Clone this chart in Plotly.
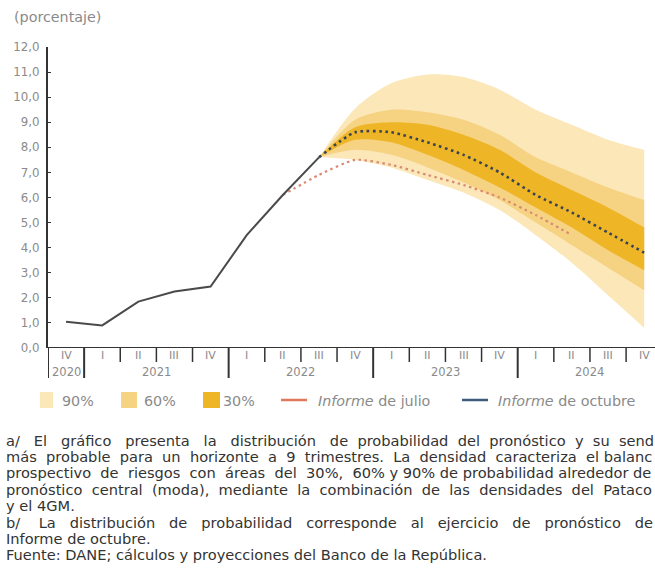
import plotly.graph_objects as go

# ---------------- data ----------------
quarter_labels = ["IV", "I", "II", "III", "IV", "I", "II", "III", "IV",
                  "I", "II", "III", "IV", "I", "II", "III", "IV"]
quarter_years = [2020, 2021, 2021, 2021, 2021, 2022, 2022, 2022, 2022,
                 2023, 2023, 2023, 2023, 2024, 2024, 2024, 2024]
y_ticks = [0, 1, 2, 3, 4, 5, 6, 7, 8, 9, 10, 11, 12]

# observed series (2020-IV .. 2022-III)
hist_idx = [0, 1, 2, 3, 4, 5, 6, 7]
hist_vals = [1.05, 0.9, 1.85, 2.25, 2.45, 4.5, 6.1, 7.6]

# October report central forecast (mode), 2022-III .. 2024-IV
oct_idx = [7, 8, 9, 10, 11, 12, 13, 14, 15, 16]
oct_vals = [7.6, 8.6, 8.6, 8.2, 7.7, 7.0, 6.1, 5.4, 4.6, 3.8]

# July report forecast, 2022-II .. 2024-II
jul_idx = [6, 7, 8, 9, 10, 11, 12, 13, 14]
jul_vals = [6.1, 6.9, 7.5, 7.3, 6.9, 6.5, 6.0, 5.3, 4.5]

# fan chart bands (same x as oct_idx)
band90_up = [7.6, 9.55, 10.55, 10.9, 10.8, 10.3, 9.5, 8.9, 8.3, 7.9]
band60_up = [7.6, 9.1, 9.5, 9.4, 9.1, 8.5, 7.6, 7.0, 6.4, 5.9]
band30_up = [7.6, 8.8, 9.0, 8.9, 8.5, 7.9, 7.0, 6.3, 5.6, 4.8]
band30_lo = [7.6, 8.3, 8.2, 7.7, 7.1, 6.4, 5.6, 4.8, 3.9, 3.1]
band60_lo = [7.6, 7.9, 7.7, 7.2, 6.6, 5.9, 5.0, 4.1, 3.2, 2.3]
band90_lo = [7.6, 7.5, 7.2, 6.7, 6.2, 5.5, 4.5, 3.4, 2.1, 0.8]

# footnote as visible in the (right-cropped) reference
footnote_lines = [
    "a/ El gráfico presenta la distribución de probabilidad del pronóstico y su send",
    "más probable para un horizonte a 9 trimestres. La densidad caracteriza el balanc",
    "prospectivo de riesgos con áreas del 30%, 60% y 90% de probabilidad alrededor de",
    "pronóstico central (moda), mediante la combinación de las densidades del Pataco",
    "y el 4GM.",
    "b/ La distribución de probabilidad corresponde al ejercicio de pronóstico de",
    "Informe de octubre.",
    "Fuente: DANE; cálculos y proyecciones del Banco de la República.",
]
# extra spaces per line to imitate the justified paragraph (style only)
footnote_extra_spaces = [18, 11, 7, 10, 0, 21, 0, 0]

# ---------------- styling ----------------
C90 = "#FBE7B8"
C60 = "#F6D383"
C30 = "#EEB526"
C_HIST = "#4a4a4a"
C_OCT = "#3a4450"
C_JUL = "#d98a72"
GREY = "#8a8a8a"
FONT = "DejaVu Sans"

W, H = 655, 576
L, R, T, B = 48, 0, 47, 228
PW, PH = W - L - R, H - T - B


def px2x(px):
    return (px - L) / PW


def py2y(py):
    return (H - B - py) / PH


def justify(text, extra):
    words = text.split(" ")
    gaps = len(words) - 1
    if gaps <= 0 or extra <= 0:
        return text
    out = words[0]
    for g in range(gaps):
        add = extra // gaps + (1 if g < extra % gaps else 0)
        out += " " * (1 + add) + words[g + 1]
    return out


fig = go.Figure()

# fan bands (lower edge, then upper edge filled to it)
for lo, up, col, name in [(band90_lo, band90_up, C90, "90%"),
                          (band60_lo, band60_up, C60, "60%"),
                          (band30_lo, band30_up, C30, "30%")]:
    fig.add_trace(go.Scatter(x=oct_idx, y=lo, mode="lines", line=dict(width=0, shape="spline", smoothing=0.8),
                             showlegend=False, hoverinfo="skip"))
    fig.add_trace(go.Scatter(x=oct_idx, y=up, mode="lines", line=dict(width=0, shape="spline", smoothing=0.8),
                             fill="tonexty", fillcolor=col, name=name, showlegend=False))

fig.add_trace(go.Scatter(x=jul_idx, y=jul_vals, mode="lines", name="Informe de julio",
                         line=dict(color=C_JUL, width=2.2, dash="2.5px,3.5px", shape="spline", smoothing=0.6),
                         showlegend=False))
fig.add_trace(go.Scatter(x=hist_idx, y=hist_vals, mode="lines", name="Observado",
                         line=dict(color=C_HIST, width=2), showlegend=False))
fig.add_trace(go.Scatter(x=oct_idx, y=oct_vals, mode="lines", name="Informe de octubre",
                         line=dict(color=C_OCT, width=2.6, dash="2.6px,3.6px", shape="spline", smoothing=0.6),
                         showlegend=False))

n = len(quarter_labels)
shapes = []
# quarter separators (longer at year changes)
for i in range(n):
    b = i + 0.5
    year_change = i + 1 < n and quarter_years[i + 1] != quarter_years[i]
    shapes.append(dict(type="line", xref="x", yref="paper", x0=b, x1=b,
                       y0=0, y1=py2y(378 if year_change else 362),
                       line=dict(color="#333333", width=2 if year_change else 1.5)))
# y-axis extended down as left bracket of first year
shapes.append(dict(type="line", xref="x", yref="paper", x0=-0.5, x1=-0.5, y0=0, y1=py2y(378),
                   line=dict(color="#333333", width=2)))

annotations = []
# year labels
years_unique = sorted(set(quarter_years))
for yv in years_unique:
    idx = [i for i, q in enumerate(quarter_years) if q == yv]
    xc = sum(idx) / len(idx)
    annotations.append(dict(x=xc, y=py2y(372), xref="x", yref="paper", text=str(yv), showarrow=False,
                            font=dict(family=FONT, size=11.5, color=GREY), xanchor="center", yanchor="middle"))
# quarter labels
for i, ql in enumerate(quarter_labels):
    annotations.append(dict(x=i, y=py2y(355), xref="x", yref="paper", text=ql, showarrow=False,
                            font=dict(family=FONT, size=11, color=GREY), xanchor="center", yanchor="middle"))

# unit title
annotations.append(dict(x=px2x(12), y=py2y(17), xref="paper", yref="paper", text="(porcentaje)", showarrow=False,
                        font=dict(family=FONT, size=14.3, color=GREY), xanchor="left", yanchor="middle"))

# manual legend
leg_y = 400
LEG_FS = 14.3
for (x0, x1, col, txt, tx) in [(40, 53, C90, "90%", 60), (121, 137, C60, "60%", 142), (203, 220, C30, "30%", 221)]:
    shapes.append(dict(type="rect", xref="paper", yref="paper", x0=px2x(x0), x1=px2x(x1),
                       y0=py2y(leg_y - 8), y1=py2y(leg_y + 8), line=dict(width=0), fillcolor=col))
    annotations.append(dict(x=px2x(tx), y=py2y(leg_y + 1), xref="paper", yref="paper", text=txt, showarrow=False,
                            font=dict(family=FONT, size=LEG_FS, color=GREY), xanchor="left", yanchor="middle"))
for (x0, x1, col, txt, tx) in [(281, 307, "#e0785a", "<i>Informe</i> de julio", 316),
                               (462, 488, "#3f5b7c", "<i>Informe</i> de octubre", 496)]:
    shapes.append(dict(type="line", xref="paper", yref="paper", x0=px2x(x0), x1=px2x(x1),
                       y0=py2y(leg_y), y1=py2y(leg_y), line=dict(color=col, width=2.5)))
    annotations.append(dict(x=px2x(tx), y=py2y(leg_y + 1), xref="paper", yref="paper", text=txt, showarrow=False,
                            font=dict(family=FONT, size=LEG_FS, color=GREY), xanchor="left", yanchor="middle"))

# footnotes
fy0, fdy = 440, 16.4
for k, line in enumerate(footnote_lines):
    annotations.append(dict(x=px2x(4), y=py2y(fy0 + k * fdy), xref="paper", yref="paper",
                            text=justify(line, footnote_extra_spaces[k]),
                            showarrow=False, font=dict(family=FONT, size=14.6, color="#333333"),
                            xanchor="left", yanchor="middle"))

fig.update_layout(
    width=W, height=H,
    margin=dict(l=L, r=R, t=T, b=B, pad=0),
    paper_bgcolor="white", plot_bgcolor="white",
    separators=",.",
    showlegend=False,
    shapes=shapes,
    annotations=annotations,
    xaxis=dict(range=[-0.5, 16.3], showgrid=False, zeroline=False, showline=False,
               showticklabels=False, ticks="", fixedrange=True, automargin=False),
    yaxis=dict(range=[0, 12], tickvals=y_ticks, tickformat=".1f", showgrid=False, zeroline=False,
               showline=True, linecolor="#333333", linewidth=2, ticks="inside", ticklen=3,
               tickcolor="#333333", tickfont=dict(family=FONT, size=11.8, color=GREY),
               ticklabelstandoff=4, fixedrange=True, automargin=False),
)
# x-axis baseline
fig.add_shape(type="line", xref="paper", yref="y", x0=0, x1=1, y0=0, y1=0,
              line=dict(color="#333333", width=2))

fig.write_html("out.html", config={"displayModeBar": False},
               post_script="document.body.style.margin='0px';document.body.style.overflow='hidden';")
